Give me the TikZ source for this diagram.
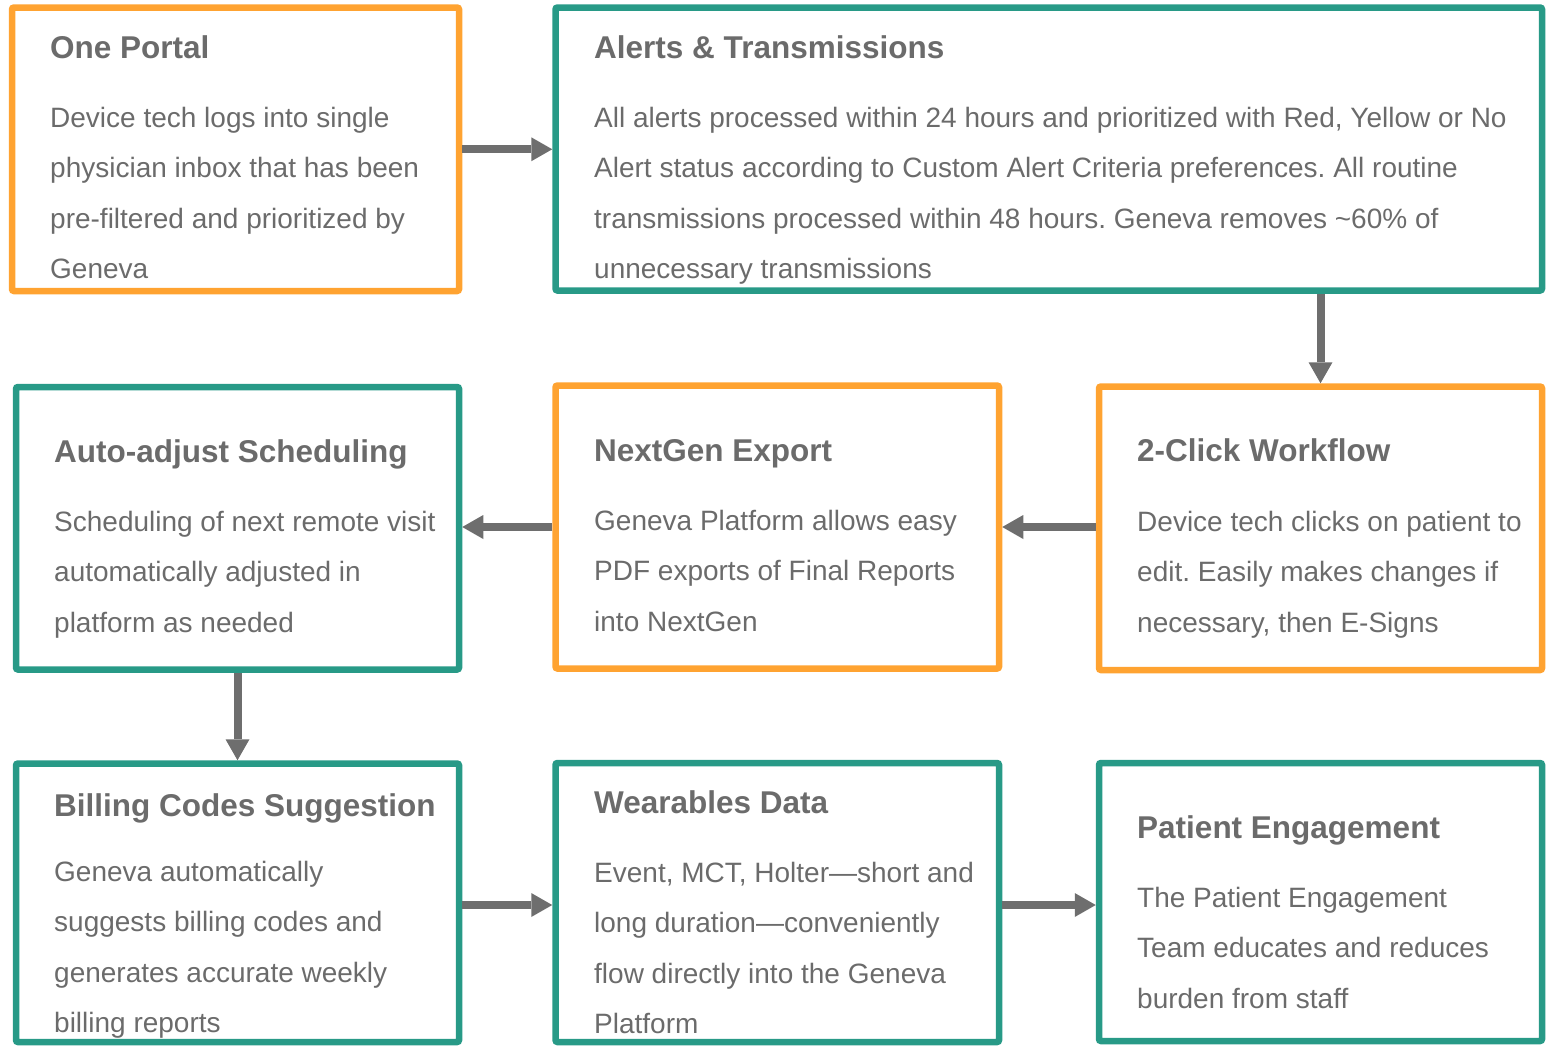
\documentclass[tikz,border=0pt]{standalone}
\usepackage{fontspec}
\setmainfont{Liberation Sans}
\usetikzlibrary{arrows.meta}
\frenchspacing

\definecolor{boxorange}{HTML}{FFA331}
\definecolor{boxteal}{HTML}{289A87}
\definecolor{textgray}{HTML}{6B6B6B}
\definecolor{arrowgray}{HTML}{6E6E6E}

\begin{document}
\begin{tikzpicture}[x=1pt,y=-1pt,
  panel/.style={draw, line width=6.5pt, rounded corners=2pt, inner sep=0pt},
  orangebox/.style={panel, draw=boxorange},
  tealbox/.style={panel, draw=boxteal},
  heading/.style={anchor=base west, inner sep=0pt, text=textgray,
    font=\fontsize{31.5}{36}\selectfont\bfseries},
  % multi-line text: the base anchor sits on the last line's baseline
  body/.style={anchor=base west, inner sep=0pt, align=left, text=textgray,
    font=\fontsize{28}{50.5}\selectfont},
  flow/.style={draw=arrowgray, line width=8pt,
    -{Triangle[length=21pt,width=24pt,line width=0pt]}}]

\useasboundingbox (0,0) rectangle (1554,1045);

% panels
\node[orangebox, minimum width=447pt,   minimum height=283.5pt] (b1) at (235.5,149.25) {};
\node[tealbox,   minimum width=986.5pt, minimum height=283pt]   (b2) at (1048.75,149) {};
\node[tealbox,   minimum width=443pt,   minimum height=282.5pt] (b3) at (237.5,528.25) {};
\node[orangebox, minimum width=443.5pt, minimum height=283pt]   (b4) at (777.25,527) {};
\node[orangebox, minimum width=443pt,   minimum height=283.5pt] (b5) at (1320.5,528.25) {};
\node[tealbox,   minimum width=443pt,   minimum height=278.5pt] (b6) at (237.5,902.75) {};
\node[tealbox,   minimum width=443.5pt, minimum height=279pt]   (b7) at (777.25,902.5) {};
\node[tealbox,   minimum width=443pt,   minimum height=278pt]   (b8) at (1320.5,902) {};

% headings
\node[heading] (h1) at (50,58)    {One Portal};
\node[heading] (h2) at (594,58)   {Alerts \& Transmissions};
\node[heading] (h3) at (54,462)   {Auto-adjust Scheduling};
\node[heading] (h4) at (594,461)  {NextGen Export};
\node[heading] (h5) at (1137,461) {2-Click Workflow};
\node[heading] (h6) at (54,816)   {Billing Codes Suggestion};
\node[heading] (h7) at (594,813)  {Wearables Data};
\node[heading] (h8) at (1137,838) {Patient Engagement};

% descriptions
\node[body] (t1) at (50,278.5) {Device tech logs into single\\physician inbox that has been\\pre-filtered and prioritized by\\Geneva};
\node[body] (t2) at (594,278.5) {All alerts processed within 24 hours and prioritized with Red, Yellow or No\\Alert status according to Custom Alert Criteria preferences. All routine\\transmissions processed within 48 hours. Geneva removes \textasciitilde60\% of\\unnecessary transmissions};
\node[body] (t3) at (54,632) {Scheduling of next remote visit\\automatically adjusted in\\platform as needed};
\node[body] (t4) at (594,631) {Geneva Platform allows easy\\PDF exports of Final Reports\\into NextGen};
\node[body] (t5) at (1137,632) {Device tech clicks on patient to\\edit. Easily makes changes if\\necessary, then E-Signs};
\node[body] (t6) at (54,1032.5) {Geneva automatically\\suggests billing codes and\\generates accurate weekly\\billing reports};
\node[body] (t7) at (594,1033.5) {Event, MCT, Holter—short and\\long duration—conveniently\\flow directly into the Geneva\\Platform};
\node[body] (t8) at (1137,1008) {The Patient Engagement\\Team educates and reduces\\burden from staff};

% flow between panels
\coordinate (row3) at (0,905);
\draw[flow] (b1.east) -- (b1.east -| b2.west);
\draw[flow] (b2.south -| b5.north) -- (b5.north);
\draw[flow] (b5.west |- b4.east) -- (b4.east);
\draw[flow] (b4.west) -- (b4.west -| b3.east);
\draw[flow] (b3.south) -- (b6.north);
\draw[flow] (b6.east |- row3) -- (b7.west |- row3);
\draw[flow] (b7.east |- row3) -- (b8.west |- row3);

\end{tikzpicture}
\end{document}
